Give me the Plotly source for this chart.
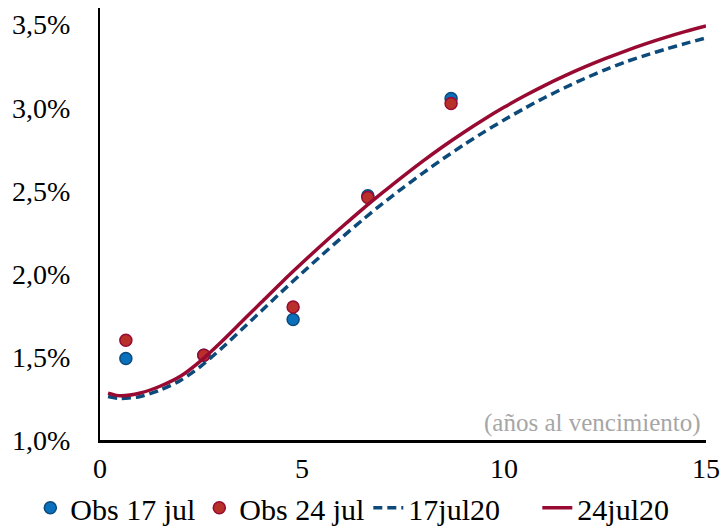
import plotly.graph_objects as go

# observed yields (% per maturity in years)
obs_x_17 = [0.64, 2.57, 4.78, 6.63, 8.69]
obs_y_17 = [1.49, 1.51, 1.725, 2.47, 3.055]
obs_x_24 = [0.64, 2.57, 4.78, 6.63, 8.69]
obs_y_24 = [1.60, 1.51, 1.80, 2.46, 3.025]

# fitted curves
curve_x = [0.2, 0.5, 1.0, 1.5, 2.0, 2.5, 3.0, 3.5, 4.0, 4.5, 5.0, 5.5, 6.0, 6.5, 7.0,
           7.5, 8.0, 8.5, 9.0, 9.5, 10.0, 10.5, 11.0, 11.5, 12.0, 12.5, 13.0, 13.5,
           14.0, 14.5, 15.0]
curve_17 = [1.262, 1.250, 1.262, 1.302, 1.36, 1.445, 1.55, 1.663, 1.778, 1.893, 2.005,
            2.115, 2.222, 2.325, 2.424, 2.518, 2.608, 2.694, 2.776, 2.853, 2.926, 2.995,
            3.06, 3.12, 3.176, 3.228, 3.275, 3.315, 3.352, 3.387, 3.42]
curve_24 = [1.282, 1.266, 1.283, 1.325, 1.385, 1.478, 1.59, 1.71, 1.83, 1.95, 2.065,
            2.177, 2.285, 2.39, 2.49, 2.587, 2.68, 2.768, 2.851, 2.929, 3.002, 3.07,
            3.133, 3.191, 3.245, 3.295, 3.341, 3.384, 3.423, 3.459, 3.492]

y_ticks = [1.0, 1.5, 2.0, 2.5, 3.0, 3.5]
y_labels = ["1,0%", "1,5%", "2,0%", "2,5%", "3,0%", "3,5%"]

FONT = "Liberation Serif"
BLUE_LINE = "#0B4A7A"
RED_LINE = "#980A32"

fig = go.Figure()
fig.add_trace(go.Scatter(
    x=obs_x_17, y=obs_y_17, mode="markers", name="Obs 17 jul",
    marker=dict(size=12, color="#0A70BC", line=dict(color="#0B4A7A", width=1.5))
))
fig.add_trace(go.Scatter(
    x=obs_x_24, y=obs_y_24, mode="markers", name="Obs 24 jul",
    marker=dict(size=12, color="#B8302A", line=dict(color="#980A32", width=1.5))
))
fig.add_trace(go.Scatter(
    x=curve_x, y=curve_17, mode="lines", name="17jul20",
    line=dict(color=BLUE_LINE, width=3.5, dash="9px,5px", shape="spline", smoothing=0.8)
))
fig.add_trace(go.Scatter(
    x=curve_x, y=curve_24, mode="lines", name="24jul20",
    line=dict(color=RED_LINE, width=3.5, shape="spline", smoothing=0.8)
))

fig.add_annotation(
    x=1, y=0, xref="paper", yref="paper", xanchor="right", yanchor="bottom",
    xshift=-3, yshift=1, showarrow=False, text="(años al vencimiento)",
    font=dict(family=FONT, size=25, color="#A6A6A6")
)

fig.update_layout(
    width=727, height=529,
    margin=dict(l=100, r=21, t=8, b=89, autoexpand=False),
    paper_bgcolor="white", plot_bgcolor="white",
    font=dict(family=FONT, size=28, color="black"),
    showlegend=True,
    legend=dict(orientation="h", x=-0.115, xanchor="left", y=-0.157, yanchor="middle",
                font=dict(family=FONT, size=30, color="black"),
                bgcolor="rgba(0,0,0,0)", entrywidth=124, tracegroupgap=0),
    xaxis=dict(range=[0, 15], dtick=5, tick0=0, showgrid=False, zeroline=False,
               showline=True, linecolor="black", linewidth=3, automargin=False,
               tickfont=dict(family=FONT, size=28, color="black"),
               ticks="outside", ticklen=1, tickcolor="rgba(0,0,0,0)"),
    yaxis=dict(range=[1.0, 3.6], tickmode="array", tickvals=y_ticks, ticktext=y_labels,
               showgrid=False, zeroline=False, showline=True, linecolor="black",
               linewidth=2, automargin=False,
               tickfont=dict(family=FONT, size=28, color="black"),
               ticks="outside", ticklen=22, tickcolor="rgba(0,0,0,0)"),
)

fig.write_html("out.html", config={"displayModeBar": False},
               post_script="document.body.style.margin='0';")
